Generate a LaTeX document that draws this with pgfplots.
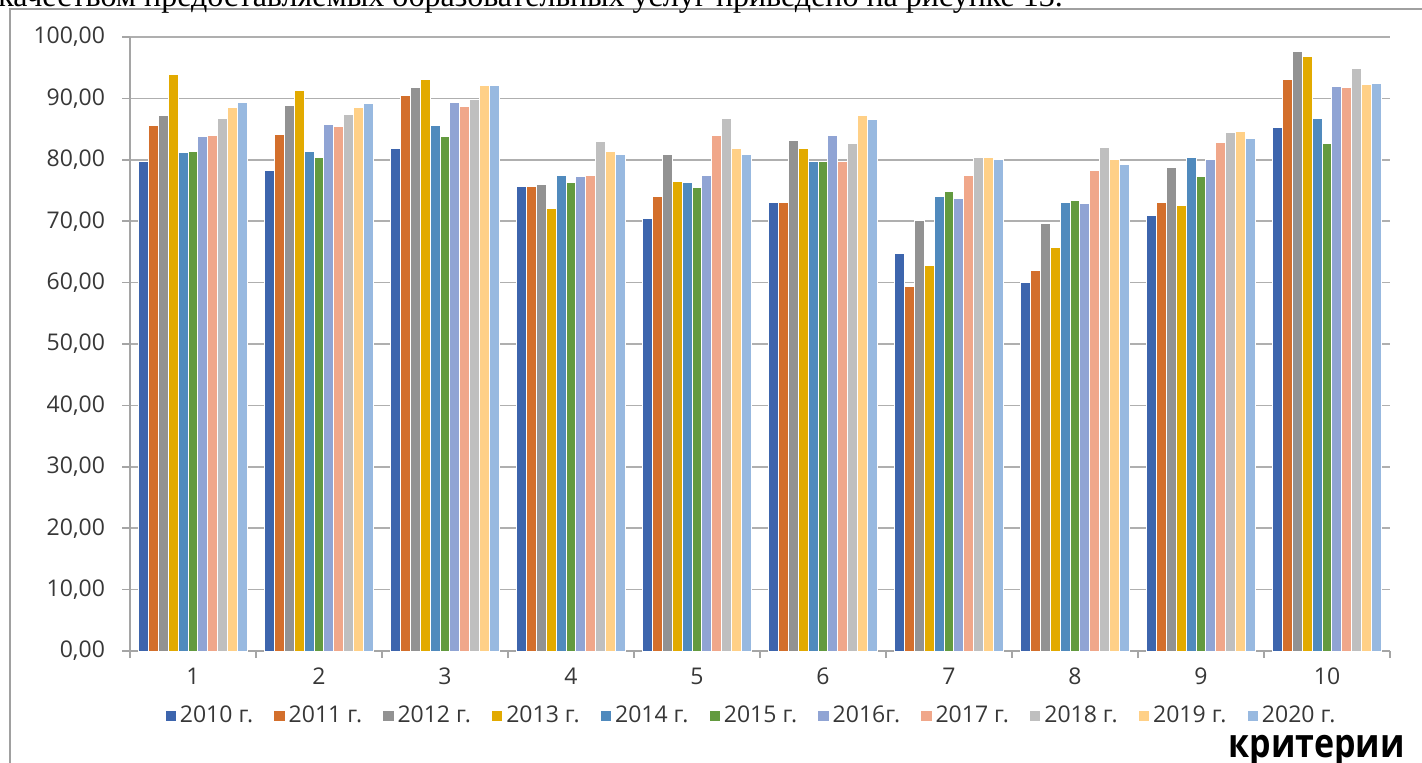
\documentclass[border=0pt]{standalone}
\usepackage{pgfplots}
\pgfplotsset{compat=1.18}
\usepackage{pgfplotstable}
\usepackage{fontspec}
\usepackage{graphicx}
\setmainfont{Open Sans}
\newfontfamily\timesfont{Liberation Serif}

\definecolor{cA}{RGB}{61,101,173}
\definecolor{cB}{RGB}{211,111,44}
\definecolor{cC}{RGB}{146,146,146}
\definecolor{cD}{RGB}{226,170,0}
\definecolor{cE}{RGB}{80,138,189}
\definecolor{cF}{RGB}{99,154,63}
\definecolor{cG}{RGB}{144,164,212}
\definecolor{cH}{RGB}{240,167,138}
\definecolor{cI}{RGB}{191,191,191}
\definecolor{cJ}{RGB}{255,208,135}
\definecolor{cK}{RGB}{152,185,224}
\definecolor{gridc}{RGB}{175,175,175}
\definecolor{axisc}{RGB}{165,165,165}
\definecolor{textc}{RGB}{55,55,55}
\definecolor{framec}{RGB}{160,160,160}

\pgfplotstableread{
x a b c d e f g h i j k
1 79.8 85.6 87.2 93.9 81.2 81.4 83.8 84.0 86.8 88.5 89.3
2 78.2 84.2 88.8 91.3 81.4 80.3 85.8 85.4 87.4 88.5 89.1
3 81.8 90.5 91.7 93.0 85.6 83.8 89.3 88.6 89.9 92.1 92.1
4 75.7 75.7 75.9 72.1 77.5 76.3 77.3 77.5 83.0 81.4 80.8
5 70.5 74.1 80.8 76.5 76.3 75.5 77.5 84.0 86.8 81.8 80.8
6 73.1 73.1 83.2 81.8 79.7 79.8 84.0 79.8 82.6 87.2 86.6
7 64.8 59.3 70.1 62.8 74.1 74.9 73.7 77.5 80.3 80.4 80.0
8 60.0 62.0 69.7 65.7 73.1 73.3 72.9 78.2 82.0 80.0 79.2
9 70.9 73.1 78.7 72.5 80.4 77.2 80.0 82.8 84.4 84.6 83.4
10 85.2 93.0 97.7 96.9 86.8 82.6 91.9 91.7 94.9 92.3 92.5
}\data

\begin{document}
\begin{tikzpicture}
\useasboundingbox (0pt,0pt) rectangle (711pt,381pt);
\clip (0pt,0pt) rectangle (711pt,381pt);
\draw[color=framec, line width=0.75pt] (5pt,-20pt) rectangle (730pt,376.5pt);
\node[anchor=base west, inner sep=0pt, font=\timesfont\fontsize{16}{19}\selectfont] at (-1pt,377.5pt)
  {качеством предоставляемых образовательных услуг приведено на рисунке 13.};
\begin{axis}[
  scale only axis, width=630pt, height=307pt,
  at={(65pt,55.5pt)}, anchor=south west,
  xmin=0.5, xmax=10.5, ymin=0, ymax=100,
  ybar=0pt, bar width=4.97pt,
  xtick={1,...,10}, minor xtick={0.5,1.5,...,10.5},
  ytick={0,10,...,100},
  ymajorgrids, grid style={color=gridc, line width=0.85pt},
  axis x line*=bottom, axis y line*=left,
  axis line style={color=axisc, line width=0.75pt},
  tick align=outside, major tick length=4pt, minor tick length=3.5pt,
  tick style={color=axisc, line width=0.75pt},
  every major x tick/.append style={draw=none},
  ticklabel style={font=\fontsize{11.5}{13}\selectfont, text=textc, /pgf/number format/assume math mode=true},
  yticklabel style={xshift=-5pt, /pgf/number format/fixed, /pgf/number format/fixed zerofill,
    /pgf/number format/precision=2, /pgf/number format/use comma},
  xticklabel style={yshift=-1pt},
  xticklabels={1,2,3,4,5,6,7,8,9,10},
  legend columns=11,
  legend style={at={(0.494,-0.106)}, anchor=center, draw=none, fill=none,
    font=\fontsize{11.5}{13}\selectfont, text=textc,
    /tikz/every even column/.append style={column sep=8.5pt}},
  legend image code/.code={\fill[#1,draw=none] (0pt,-2.6pt) rectangle (5.2pt,2.6pt);},
]
\addplot[fill=cA, draw=white, line width=0.5pt] table[x=x,y=a]{\data};
\addplot[fill=cB, draw=white, line width=0.5pt] table[x=x,y=b]{\data};
\addplot[fill=cC, draw=white, line width=0.5pt] table[x=x,y=c]{\data};
\addplot[fill=cD, draw=white, line width=0.5pt] table[x=x,y=d]{\data};
\addplot[fill=cE, draw=white, line width=0.5pt] table[x=x,y=e]{\data};
\addplot[fill=cF, draw=white, line width=0.5pt] table[x=x,y=f]{\data};
\addplot[fill=cG, draw=white, line width=0.5pt] table[x=x,y=g]{\data};
\addplot[fill=cH, draw=white, line width=0.5pt] table[x=x,y=h]{\data};
\addplot[fill=cI, draw=white, line width=0.5pt] table[x=x,y=i]{\data};
\addplot[fill=cJ, draw=white, line width=0.5pt] table[x=x,y=j]{\data};
\addplot[fill=cK, draw=white, line width=0.5pt] table[x=x,y=k]{\data};
\legend{2010 г.,2011 г.,2012 г.,2013 г.,2014 г.,2015 г.,2016г.,2017 г.,2018 г.,2019 г.,2020 г.}
\end{axis}
\node[anchor=base east, inner sep=0pt, font=\bfseries\fontsize{20}{24}\selectfont] at (702.5pt,2.5pt) {\scalebox{0.85}[1]{критерии}};
\end{tikzpicture}
\end{document}
